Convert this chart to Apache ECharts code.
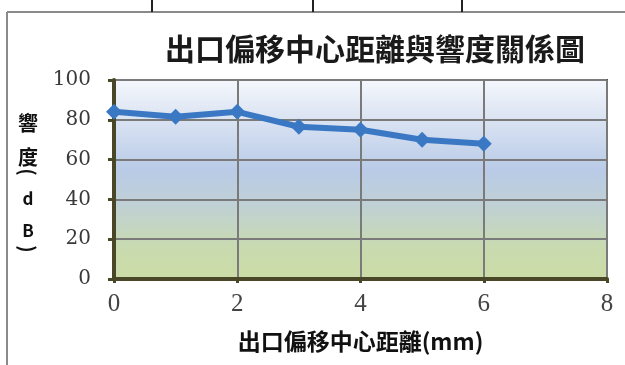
<!DOCTYPE html>
<html>
<head>
<meta charset="utf-8">
<script src="https://cdn.jsdelivr.net/npm/echarts@6/dist/echarts.min.js"></script>
<style>
  html, body { margin: 0; padding: 0; background: #fff; }
  #chart { width: 625px; height: 365px; }
</style>
</head>
<body>
<div id="chart"></div>
<script>
// 出口偏移中心距離 (mm) vs 響度 (dB)
var offsetMm = [0, 1, 2, 3, 4, 5, 6];
var loudness = [84, 81.5, 84, 76.5, 75, 70, 68];
var xTicks = [0, 2, 4, 6, 8];
var yTicks = [0, 20, 40, 60, 80, 100];

var chart = echarts.init(document.getElementById('chart'));

var points = [];
for (var i = 0; i < offsetMm.length; i++) {
    points.push([offsetMm[i], loudness[i]]);
}

var cjk = 'Noto Sans CJK TC';
var olive = '#4a4628';

// y axis name, stacked vertically like the excel original
function yName(txt, y, size, rot) {
    return {
        type: 'text',
        x: 28,
        y: y,
        rotation: rot || 0,
        style: {
            text: txt,
            fontFamily: cjk,
            fontSize: size,
            fontWeight: 'bold',
            fill: '#111',
            align: 'center',
            verticalAlign: 'middle'
        }
    };
}

var option = {
    backgroundColor: '#fff',
    animation: false,
    title: {
        text: '出口偏移中心距離與響度關係圖',
        left: 370,
        top: 29,
        textAlign: 'center',
        textStyle: {
            fontFamily: cjk,
            fontSize: 30,
            fontWeight: 'bold',
            color: '#1a1a1a'
        }
    },
    grid: {
        left: 114,
        right: 18,
        top: 80,
        bottom: 86,
        show: true,
        borderColor: olive,
        borderWidth: 2,
        backgroundColor: new echarts.graphic.LinearGradient(0, 0, 0, 1, [
            { offset: 0, color: '#f5f7fc' },
            { offset: 0.45, color: '#b9cbe7' },
            { offset: 0.62, color: '#bfd0d6' },
            { offset: 0.85, color: '#c9dbae' },
            { offset: 1, color: '#cbdca6' }
        ])
    },
    xAxis: {
        type: 'value',
        min: xTicks[0],
        max: xTicks[xTicks.length - 1],
        interval: 2,
        name: '出口偏移中心距離(mm)',
        nameLocation: 'middle',
        nameGap: 51,
        nameTextStyle: {
            fontFamily: cjk,
            fontSize: 23,
            fontWeight: 'bold',
            color: '#111'
        },
        axisLine: { show: true, lineStyle: { color: olive, width: 4 } },
        axisTick: { show: true, length: 4, lineStyle: { color: olive, width: 3 } },
        axisLabel: {
            fontFamily: 'Liberation Serif',
            fontSize: 25,
            color: '#444',
            margin: 13
        },
        splitLine: { show: true, lineStyle: { color: '#7a7a7a', width: 2 } }
    },
    yAxis: {
        type: 'value',
        min: yTicks[0],
        max: yTicks[yTicks.length - 1],
        interval: 20,
        axisLine: { show: true, lineStyle: { color: olive, width: 4 } },
        axisTick: { show: true, length: 6, lineStyle: { color: olive, width: 3 } },
        axisLabel: {
            fontFamily: 'DejaVu Serif',
            fontSize: 20,
            color: '#3a3a3a',
            margin: 23
        },
        splitLine: { show: true, lineStyle: { color: '#7a7a7a', width: 2 } }
    },
    graphic: [
        { type: 'line', shape: { x1: 7, y1: 12, x2: 625, y2: 12 }, style: { stroke: '#8a8a8a', lineWidth: 2 } },
        { type: 'line', shape: { x1: 7, y1: 12, x2: 7, y2: 365 }, style: { stroke: '#8a8a8a', lineWidth: 2 } },
        { type: 'line', shape: { x1: 152, y1: 0, x2: 152, y2: 12 }, style: { stroke: '#222', lineWidth: 2 } },
        { type: 'line', shape: { x1: 313, y1: 0, x2: 313, y2: 12 }, style: { stroke: '#222', lineWidth: 2 } },
        { type: 'line', shape: { x1: 462, y1: 0, x2: 462, y2: 12 }, style: { stroke: '#222', lineWidth: 2 } },
        yName('響', 123, 20),
        yName('度', 157, 20),
        yName('(', 172, 20, -Math.PI / 2),
        yName('d', 199, 17),
        yName('B', 231, 17),
        yName(')', 249, 20, -Math.PI / 2)
    ],
    series: [
        {
            name: '響度',
            type: 'line',
            data: points,
            symbol: 'diamond',
            symbolSize: 16,
            lineStyle: { color: '#3a78c4', width: 6 },
            itemStyle: { color: '#3a78c4' }
        }
    ]
};
chart.setOption(option);
</script>
</body>
</html>
